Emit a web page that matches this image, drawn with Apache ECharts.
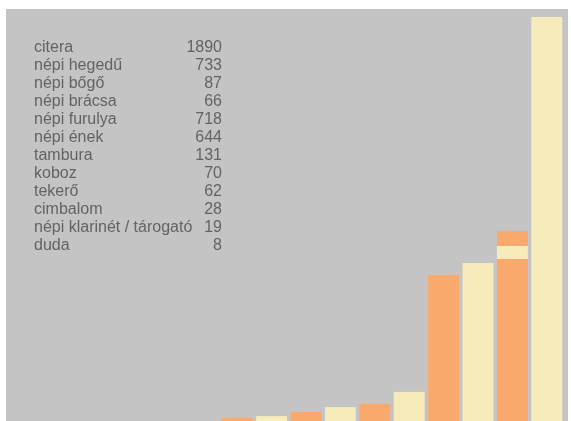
<!DOCTYPE html>
<html>
<head>
<meta charset="utf-8">
<script src="https://cdn.jsdelivr.net/npm/echarts@6/dist/echarts.min.js"></script>
<style>
html,body{margin:0;padding:0;background:#ffffff;}
#chart{width:571px;height:421px;}
</style>
</head>
<body>
<div id="chart"></div>
<script>
// Table (legend-like list) data
const instruments = ["citera","népi hegedű","népi bőgő","népi brácsa","népi furulya","népi ének","tambura","koboz","tekerő","cimbalom","népi klarinét / tárogató","duda"];
const counts = [1890,733,87,66,718,644,131,70,62,28,19,8];

// Bars (left to right)
const barSlots = ["1","2","3","4","5","6","7","8","9","10"];
const barBase = [16,23,42,65,80,136,683,739,758,1890];
const barMid  = ['-','-','-','-','-','-','-','-',61,'-'];
const barTop  = ['-','-','-','-','-','-','-','-',70,'-'];
const baseColors = ["orange","yellow","orange","yellow","orange","yellow","orange","yellow","orange","yellow"];

const ORANGE = "#f9a96c";
const YELLOW = "#f6ebbb";
const GRAY = "#c4c4c4";
const TEXT = "#636363";

const chart = echarts.init(document.getElementById('chart'), null, {renderer:'canvas'});

const FONT = '16px "Liberation Sans", Arial, sans-serif';
const textEls = [];
instruments.forEach((name, i) => {
  const y = 47.5 + i * 18;
  textEls.push({type:'text', x: 34, y: y, z: 10,
    style:{text:name, fill:TEXT, font:FONT, textAlign:'left', textVerticalAlign:'middle'}});
  textEls.push({type:'text', x: 222, y: y, z: 10,
    style:{text:String(counts[i]), fill:TEXT, font:FONT, textAlign:'right', textVerticalAlign:'middle'}});
});

const option = {
  animation: false,
  backgroundColor: '#ffffff',
  grid: {left: 220, right: 7, top: 17, bottom: 0, containLabel: false},
  xAxis: {type:'category', data: barSlots, show:false},
  yAxis: {type:'value', min:0, max:1890, show:false, splitLine:{show:false}},
  graphic: [
    {type:'rect', x:6, y:9, z:-10, silent:true, shape:{width:562, height:412}, style:{fill:GRAY}},
    ...textEls
  ],
  series: [
    {type:'bar', stack:'s', barCategoryGap:'10%', z:2,
      data: barBase.map((v,i)=>({value:v, itemStyle:{color: baseColors[i]==='orange'?ORANGE:YELLOW}}))},
    {type:'bar', stack:'s', barCategoryGap:'10%', z:2, itemStyle:{color:YELLOW}, data: barMid},
    {type:'bar', stack:'s', barCategoryGap:'10%', z:2, itemStyle:{color:ORANGE}, data: barTop}
  ]
};
chart.setOption(option);
</script>
</body>
</html>
